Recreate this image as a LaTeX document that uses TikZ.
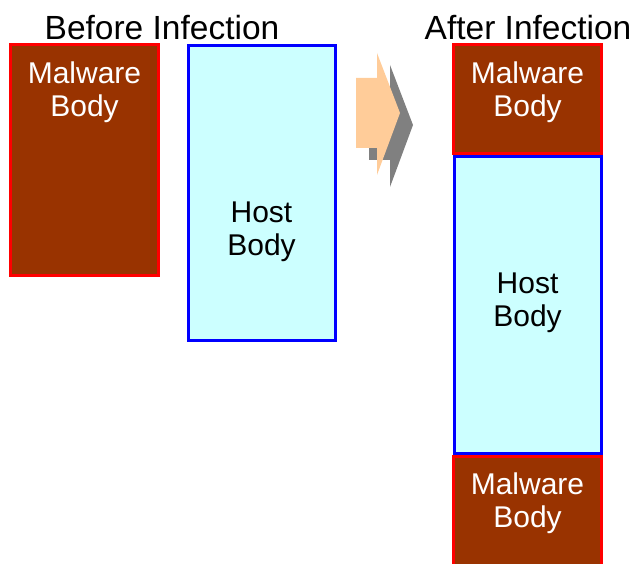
\documentclass[tikz,border=0pt]{standalone}
\usepackage{fontspec}
\setmainfont{Liberation Sans}
\usetikzlibrary{calc}
\definecolor{malbrown}{HTML}{993300}
\definecolor{hostcyan}{HTML}{CCFFFF}
\definecolor{arrowpeach}{HTML}{FFCC99}
\definecolor{shadowgray}{HTML}{808080}

\begin{document}
\begin{tikzpicture}[x=1pt,y=-1pt,
    malbox/.style={draw=red,fill=malbrown,line width=3pt,inner sep=0pt,minimum width=148pt},
    hostbox/.style={draw=blue,fill=hostcyan,line width=3pt,inner sep=0pt,minimum width=147pt},
    maltext/.style={text=white,align=center,inner sep=0pt,anchor=north,font=\fontsize{30}{33}\selectfont},
    hosttext/.style={text=black,align=center,inner sep=0pt,anchor=north,font=\fontsize{30}{33}\selectfont},
    title/.style={anchor=base,inner sep=0pt,font=\fontsize{33.5}{36}\selectfont}]
    \useasboundingbox (0,0) rectangle (635,564);
    % before
    \node[title] (before) at (162,40) {Before Infection};
    \node[malbox,minimum height=231pt] (malA) at (84.5,160) {};
    \node[hostbox,minimum height=295pt] (hostA) at (261.5,193) {};
    \node[maltext] (malAtxt) at (84.5,62) {Malware\\Body};
    \node[hosttext] (hostAtxt) at (261.5,202) {Host\\Body};
    % arrow with shadow
    \fill[shadowgray] (369,90) -- (390,90) -- (390,65) -- (413,125) -- (390,187) -- (390,160) -- (369,160) -- cycle;
    \fill[arrowpeach] (356,78) -- (377,78) -- (377,53) -- (400,113) -- (377,175) -- (377,148) -- (356,148) -- cycle;
    % after
    \node[title] (after) at (528,40) {After Infection};
    \node[malbox,minimum height=109pt] (malB) at (527.5,99) {};
    \node[malbox,minimum height=130pt] (malC) at (527.5,521) {};
    \node[hostbox,minimum height=297pt] (hostB) at (527.5,305) {};
    \node[maltext] (malBtxt) at (527.5,62) {Malware\\Body};
    \node[hosttext] (hostBtxt) at (527.5,273) {Host\\Body};
    \node[maltext] (malCtxt) at (527.5,473) {Malware\\Body};
\end{tikzpicture}
\end{document}
